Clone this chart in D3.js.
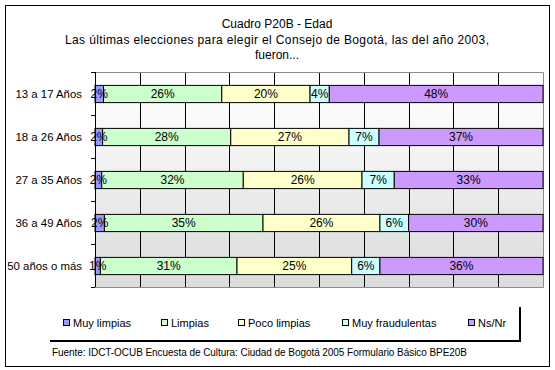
<!DOCTYPE html>
<html lang="es">
<head>
    <meta http-equiv="Content-Type" content="text/html; charset=utf-8" />
    <title>Cuadro P20B - Edad</title>
    <style type="text/css">
        body{ margin:0; background:#fff; }
        text{ font-family:Arial, "Liberation Sans", sans-serif; fill:#000; }
    </style>
</head>
<body>

<script src="https://cdn.jsdelivr.net/npm/d3@7/dist/d3.min.js"></script>

<script>
    // datos (porcentajes)
    var categorias = ["13 a 17 Años", "18 a 26 Años", "27 a 35 Años", "36 a 49 Años", "50 años o más"];
    var series = ["Muy limpias", "Limpias", "Poco limpias", "Muy fraudulentas", "Ns/Nr"];
    var muyLimpias      = [1.9, 1.7, 1.5, 2.1, 1.2];
    var limpias         = [26.4, 28.6, 31.6, 35.4, 30.5];
    var pocoLimpias     = [19.7, 26.4, 26.5, 26.1, 25.6];
    var muyFraudulentas = [4.3, 6.7, 7.2, 6.4, 6.3];
    var nsnr            = [47.7, 36.6, 33.2, 30.0, 36.4];
    var etiquetas = [
        ["2%", "26%", "20%", "4%", "48%"],
        ["2%", "28%", "27%", "7%", "37%"],
        ["2%", "32%", "26%", "7%", "33%"],
        ["2%", "35%", "26%", "6%", "30%"],
        ["1%", "31%", "25%", "6%", "36%"]
    ];
    var colores = ["#9999ff", "#ccffcc", "#ffffcc", "#ccffff", "#cc99ff"];
    var titulo = ["Cuadro P20B - Edad",
        "Las últimas elecciones para elegir el Consejo de Bogotá, las del año 2003,",
        "fueron..."];
    var fuente = "Fuente: IDCT-OCUB Encuesta de Cultura: Ciudad de Bogotá 2005 Formulario Básico BPE20B";

    var width = 555, height = 370;
    var svg = d3.select("body").append("svg")
        .attr("width", width)
        .attr("height", height);

    // marco exterior
    svg.append("rect")
        .attr("x", 5.5).attr("y", 5.5)
        .attr("width", 544).attr("height", 361)
        .attr("fill", "#fff")
        .attr("stroke", "#000");

    // titulo
    svg.append("g").selectAll("text")
        .data(titulo)
        .enter().append("text")
        .attr("x", 277)
        .attr("y", function(d, i){ return 24 + i * 15.5; })
        .attr("dy", "0.35em")
        .attr("text-anchor", "middle")
        .attr("textLength", function(d, i){ return i == 1 ? 424 : null; })
        .style("font-size", "12px")
        .text(function(d){ return d; });

    var plot = {left:95, right:543, top:72, bottom:287};

    var x = d3.scaleLinear().domain([0, 100]).range([plot.left, plot.right]);
    var y = d3.scaleBand().domain(categorias)
        .range([plot.top, plot.bottom])
        .paddingInner(0.6).paddingOuter(0.3);

    // fondo degradado
    var grad = svg.append("defs").append("linearGradient")
        .attr("id", "fondo")
        .attr("x1", 0).attr("y1", 0).attr("x2", 0).attr("y2", 1);
    grad.append("stop").attr("offset", "0").attr("stop-color", "#ffffff");
    grad.append("stop").attr("offset", "0.3").attr("stop-color", "#f7f7f7");
    grad.append("stop").attr("offset", "0.55").attr("stop-color", "#ececec");
    grad.append("stop").attr("offset", "0.75").attr("stop-color", "#e4e4e4");
    grad.append("stop").attr("offset", "1").attr("stop-color", "#dcdcdc");

    svg.append("rect")
        .attr("x", plot.left).attr("y", plot.top)
        .attr("width", plot.right - plot.left)
        .attr("height", plot.bottom - plot.top)
        .attr("fill", "url(#fondo)");

    // lineas de division verticales
    svg.append("g").selectAll("line")
        .data(x.ticks(10).slice(1, -1))
        .enter().append("line")
        .attr("x1", function(d){ return Math.round(x(d)) + 0.5; })
        .attr("x2", function(d){ return Math.round(x(d)) + 0.5; })
        .attr("y1", plot.top).attr("y2", plot.bottom)
        .attr("stroke", "#000");

    // borde del area de trazado
    svg.append("path")
        .attr("d", "M" + plot.left + "," + (plot.top + 0.5) + "H" + (plot.right + 0.5) +
            "V" + (plot.bottom + 0.5) + "H" + plot.left)
        .attr("fill", "none")
        .attr("stroke", "#8c8c8c");

    // barras apiladas
    var filas = categorias.map(function(c, i){
        return {cat:c, vals:[muyLimpias[i], limpias[i], pocoLimpias[i], muyFraudulentas[i], nsnr[i]], etq:etiquetas[i]};
    });

    var grupos = svg.append("g").selectAll("g")
        .data(filas)
        .enter().append("g");

    grupos.each(function(f){
        var acc = 0;
        var segs = f.vals.map(function(v, j){
            var s = {x0:acc, x1:acc + v, color:colores[j], etq:f.etq[j]};
            acc += v;
            return s;
        });
        var g = d3.select(this);
        g.selectAll("rect")
            .data(segs)
            .enter().append("rect")
            .attr("x", function(d){ return x(d.x0); })
            .attr("y", y(f.cat) + 0.5)
            .attr("width", function(d){ return x(d.x1) - x(d.x0); })
            .attr("height", y.bandwidth())
            .attr("fill", function(d){ return d.color; })
            .attr("stroke", "#000");
        g.selectAll("text")
            .data(segs)
            .enter().append("text")
            .attr("x", function(d){ return (x(d.x0) + x(d.x1)) / 2; })
            .attr("y", y(f.cat) + y.bandwidth() / 2 + 0.5)
            .attr("dy", "0.35em")
            .attr("text-anchor", "middle")
            .style("font-size", "12px")
            .text(function(d){ return d.etq; });
    });

    // eje de categorias
    var eje = svg.append("g");
    eje.append("line")
        .attr("x1", plot.left + 0.5).attr("x2", plot.left + 0.5)
        .attr("y1", plot.top).attr("y2", plot.bottom)
        .attr("stroke", "#000");
    var limites = d3.range(categorias.length + 1).map(function(i){
        return i == categorias.length ? plot.bottom : plot.top + i * y.step();
    });
    eje.selectAll("line.tick")
        .data(limites)
        .enter().append("line")
        .attr("class", "tick")
        .attr("x1", plot.left - 4).attr("x2", plot.left)
        .attr("y1", function(d){ return Math.round(d) + 0.5; })
        .attr("y2", function(d){ return Math.round(d) + 0.5; })
        .attr("stroke", "#000");
    eje.selectAll("text")
        .data(categorias)
        .enter().append("text")
        .attr("x", 82)
        .attr("y", function(d){ return y(d) + y.bandwidth() / 2 + 0.5; })
        .attr("dy", "0.35em")
        .attr("text-anchor", "end")
        .style("font-size", "11.4px")
        .text(function(d){ return d; });

    // leyenda
    var leyX = [63, 161, 238, 342, 468];
    var ley = svg.append("g");
    ley.append("path")
        .attr("d", "M520,307V341H50")
        .attr("fill", "none")
        .attr("stroke", "#000")
        .attr("stroke-width", 2);
    var items = ley.selectAll("g")
        .data(series)
        .enter().append("g")
        .attr("transform", function(d, i){ return "translate(" + leyX[i] + ",323)"; });
    items.append("rect")
        .attr("x", 0.5).attr("y", -3.5)
        .attr("width", 6).attr("height", 6)
        .attr("fill", function(d, i){ return colores[i]; })
        .attr("stroke", "#000");
    items.append("text")
        .attr("x", 10)
        .attr("dy", "0.35em")
        .style("font-size", "11px")
        .text(function(d){ return d; });

    // fuente
    svg.append("text")
        .attr("x", 52)
        .attr("y", 352)
        .attr("dy", "0.35em")
        .attr("textLength", 415)
        .style("font-size", "10px")
        .text(fuente);
</script>

</body>
</html>
